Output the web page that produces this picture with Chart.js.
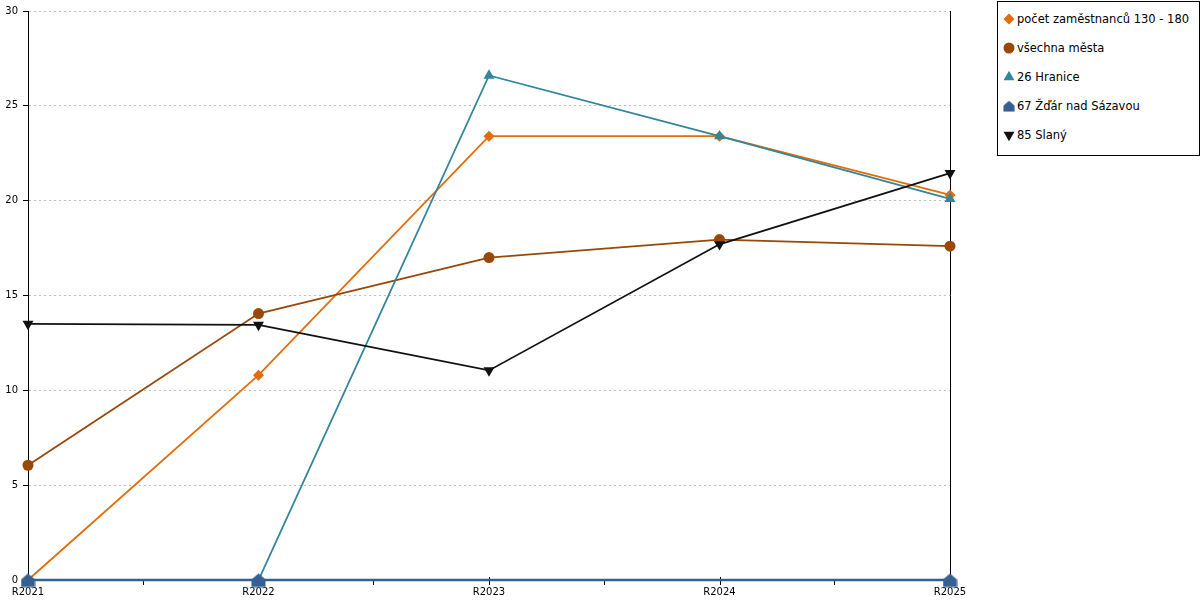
<!DOCTYPE html>
<html><head><meta charset="utf-8">
<script src="https://cdn.jsdelivr.net/npm/chart.js@4.4.1/dist/chart.umd.min.js"></script>
<style>
html,body{margin:0;padding:0;background:#fff;}
#wrap{position:relative;width:1200px;height:600px;overflow:hidden;}
#c{position:absolute;left:0;top:0;}
#legend{position:absolute;left:997px;top:1px;width:203px;height:155px;border:1px solid #000;box-sizing:border-box;font-family:"DejaVu Sans";font-size:11.5px;color:#000;background:#fff;}
.item{position:absolute;left:0;height:20px;width:200px;}
.item canvas{position:absolute;left:4px;top:3px;}
.item span{position:absolute;left:19px;top:0;line-height:20px;white-space:nowrap;}
</style></head><body>
<div id="wrap"><canvas id="c" width="1200" height="600" style="width:1200px;height:600px"></canvas><div id="legend"></div></div>
<script>
const categories = ['R2021','R2022','R2023','R2024','R2025'];
const seriesNames = ['počet zaměstnanců 130 - 180','všechna města','26 Hranice','67 Žďár nad Sázavou','85 Slaný'];
const pocetZamestnancu = [0, 10.8, 23.4, 23.4, 20.3];
const vsechnaMesta = [6.05, 14.05, 17.0, 17.95, 17.6];
const hranice = [0, 0, 26.6, 23.4, 20.1];
const zdar = [0, 0, null, null, 0];
const slany = [13.5, 13.45, 11.05, 17.7, 21.45];
const yMin = 0, yMax = 30, yStep = 5;

const colors = ['#E36C09','#984807','#31859C','#376092','#111111'];

// house-shaped marker
function makeHouse(color){
  const cv = document.createElement('canvas');
  cv.width = 15; cv.height = 15;
  const g = cv.getContext('2d');
  g.fillStyle = color;
  g.beginPath();
  g.moveTo(7.5,1); g.lineTo(14.5,7); g.lineTo(14.5,14.5); g.lineTo(0.5,14.5); g.lineTo(0.5,7);
  g.closePath(); g.fill();
  return cv;
}
const houseImg = makeHouse(colors[3]);

const styles = [
  {pointStyle:'rectRot', radius:5.5, rotation:0},
  {pointStyle:'circle', radius:5.5, rotation:0},
  {pointStyle:'triangle', radius:6.3, rotation:0},
  {pointStyle:houseImg, radius:7, rotation:0},
  {pointStyle:'triangle', radius:6.3, rotation:180}
];
const values = [pocetZamestnancu, vsechnaMesta, hranice, zdar, slany];

const datasets = values.map((v,i)=>({
  label: seriesNames[i],
  data: v,
  borderColor: colors[i],
  backgroundColor: colors[i],
  borderWidth: i === 3 ? 2.5 : 1.8,
  tension: 0,
  clip: false,
  spanGaps: true,
  pointStyle: styles[i].pointStyle,
  pointRadius: styles[i].radius,
  pointRotation: styles[i].rotation,
  pointBorderWidth: 0,
  pointBackgroundColor: colors[i],
  order: values.length - i
}));

const axisExtras = {
  id:'axisExtras',
  beforeDatasetsDraw(chart){
    const {ctx, chartArea:a, scales} = chart;
    ctx.save();
    ctx.strokeStyle = '#000'; ctx.lineWidth = 1;
    ctx.beginPath();
    ctx.moveTo(Math.round(a.right)+0.5, a.top);
    ctx.lineTo(Math.round(a.right)+0.5, a.bottom);
    // tick marks at the category positions
    categories.forEach((c,i)=>{
      const px = Math.round(scales.x.getPixelForValue(i))+0.5;
      ctx.moveTo(px, a.bottom-3);
      ctx.lineTo(px, a.bottom+5);
    });
    ctx.stroke();
    ctx.restore();
  }
};

const tickFont = {family:'DejaVu Sans', size:10};

new Chart(document.getElementById('c'), {
  type:'line',
  data:{labels:categories, datasets},
  options:{
    responsive:false, animation:false, devicePixelRatio:1,
    layout:{padding:{top:10,right:250,left:0,bottom:0}},
    plugins:{legend:{display:false}, tooltip:{enabled:false}},
    scales:{
      x:{
        offset:false,
        grid:{offset:true, drawOnChartArea:false, tickLength:5, color:'#000', tickColor:'#000'},
        border:{color:'#000'},
        ticks:{font:tickFont, color:'#000', padding:1, maxRotation:0, autoSkip:false},
        afterFit(s){ s.height = 20; }
      },
      y:{
        min:yMin, max:yMax,
        grid:{color:'#c0c0c0', tickColor:'#000', tickLength:5, tickBorderDash:[]},
        border:{color:'#000', dash:[2,3]},
        ticks:{stepSize:yStep, font:tickFont, color:'#000', padding:5},
        afterFit(s){ s.width = 28; }
      }
    }
  },
  plugins:[axisExtras]
});

// HTML legend
const legend = document.getElementById('legend');
const centers = [17,46,75,104,133];
seriesNames.forEach((name,i)=>{
  const it = document.createElement('div');
  it.className = 'item';
  it.style.top = (centers[i]-10)+'px';
  const cv = document.createElement('canvas');
  cv.width = 14; cv.height = 14;
  const g = cv.getContext('2d');
  g.fillStyle = colors[i]; g.strokeStyle = colors[i];
  if (i === 3) {
    g.drawImage(houseImg, 1, 1, 12, 12);
  } else {
    Chart.helpers.drawPoint(g, {pointStyle:styles[i].pointStyle, radius:styles[i].radius, rotation:styles[i].rotation, borderWidth:0}, 7, 7);
  }
  const sp = document.createElement('span');
  sp.textContent = name;
  it.appendChild(cv); it.appendChild(sp);
  legend.appendChild(it);
});
</script>
</body></html>
